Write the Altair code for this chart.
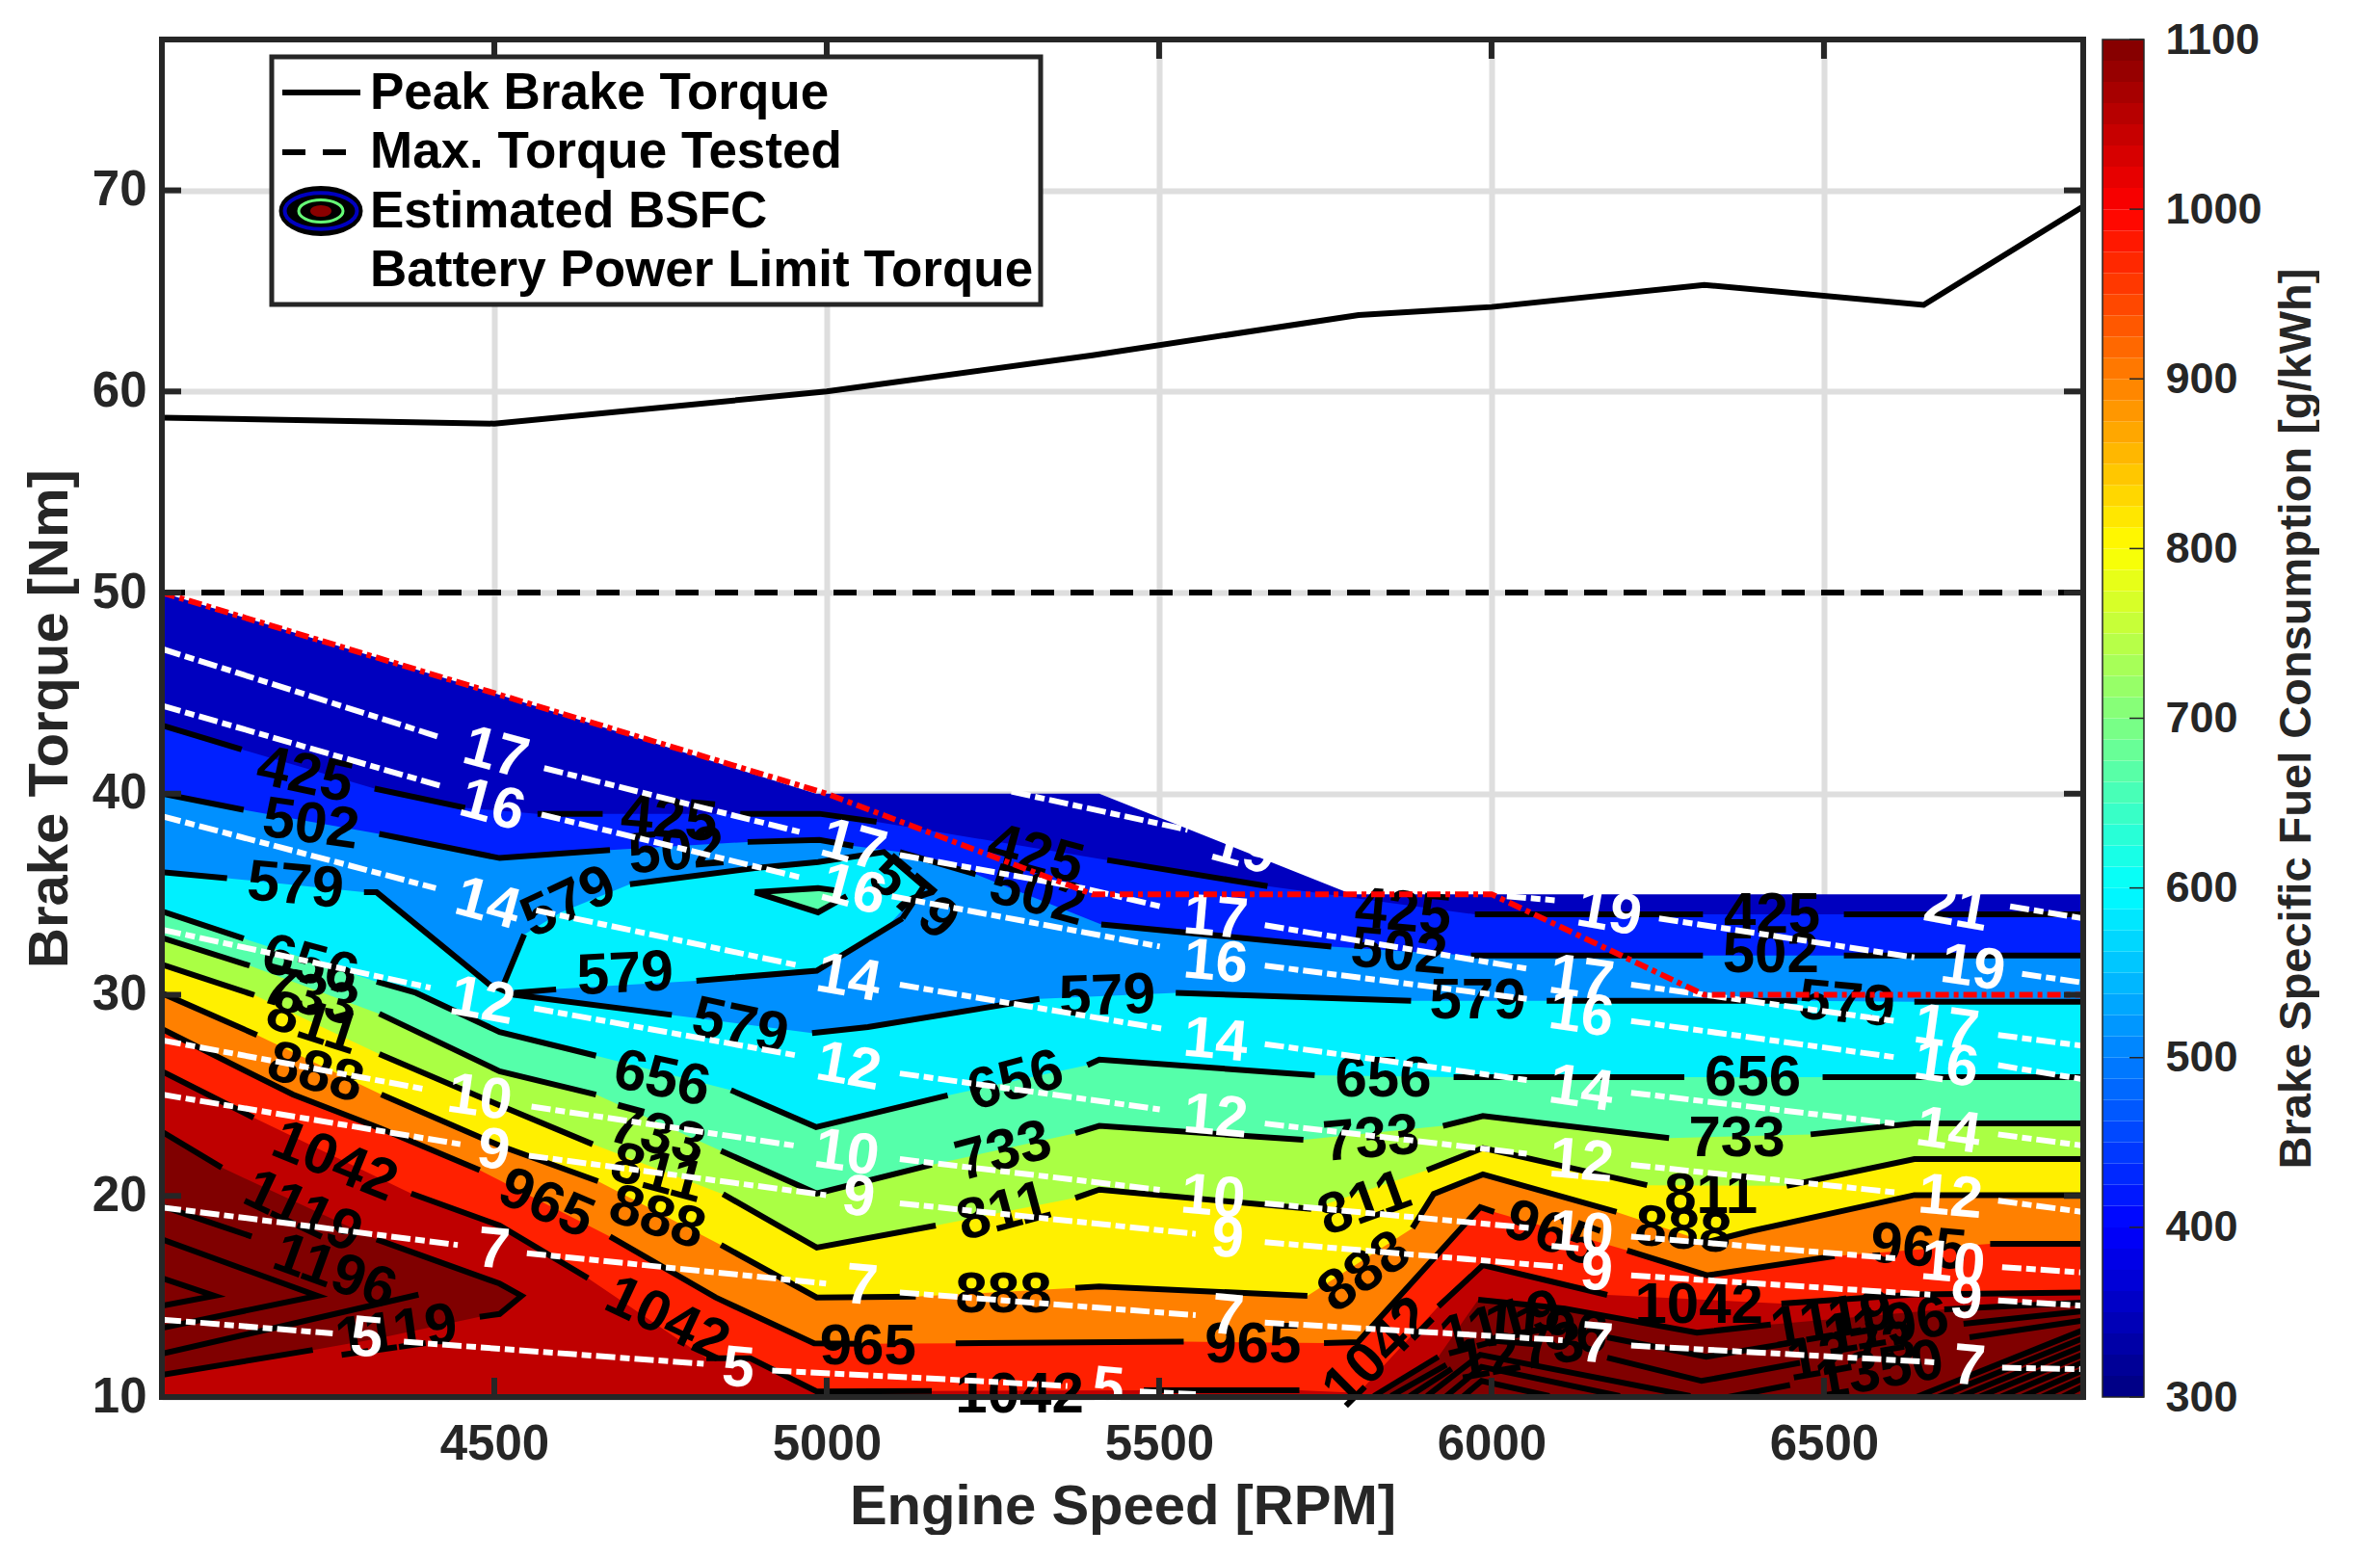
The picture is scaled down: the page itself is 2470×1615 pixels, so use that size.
import altair as alt
import pandas as pd

FONT = "Liberation Sans"
INK = "#262626"
W, H = 1994, 1409
X_TITLE = "Engine Speed [RPM]"
Y_TITLE = "Brake Torque [Nm]"
CB_TITLE = "Brake Specific Fuel Consumption [g/kWh]"
X_DOM = [4000, 6890]
Y_DOM = [10, 77.5]
X_TICKS = [4500, 5000, 5500, 6000, 6500]
Y_TICKS = [10, 20, 30, 40, 50, 60, 70]
CB_TICKS = [300, 400, 500, 600, 700, 800, 900, 1000, 1100]

PEAK_RPM = [4000, 4500, 5000, 5400, 5800, 6000, 6320, 6650, 6890]
PEAK_NM = [58.7, 58.4, 60.0, 61.8, 63.8, 64.2, 65.3, 64.3, 69.2]
TESTED_RPM = [4000, 6890]
TESTED_NM = [50, 50]
LIMIT_RPM = [4000, 4500, 5000, 5400, 6000, 6320, 6890]
LIMIT_NM = [50, 45, 40, 35, 35, 30, 30]
TOP_RPM = [4000, 4500, 4984, 5410, 5790, 6890]
TOP_NM = [50, 45, 40, 40, 35, 35]

C425 = [[(4000,43.4),(4120,42.2)],[(4320,40.25),(4456,39.3)],[(4565,39.0),(4663,39.0)],
        [(4870,39.0),(4989,39.0),(5075,38.6)],[(5422,36.7),(5663,35.4)],
        [(5975,34.0),(6318,34.0)],[(6530,34.0),(6890,34.0)]]
C502 = [[(4000,40.0),(4123,39.2)],[(4327,38.0),(4508,36.8),(4674,37.2)],
        [(4881,37.6),(4989,37.7),(5040,37.4)],[(5110,37.1),(5224,36.0)],
        [(5413,33.5),(5759,32.4)],[(5969,31.95),(6318,31.95)],[(6530,31.95),(6890,31.95)]]
C579 = [[(4000,36.1),(4098,35.8)],[(4304,35.1),(4323,35.1),(4493,30.5),(4530,30.0),(4767,29.0)],
        [(4978,28.1),(5062,28.4),(5320,29.8)],[(5525,30.1),(5879,29.7)],
        [(6083,29.7),(6460,29.7)],[(6636,29.65),(6890,29.65)]]
C579_ISLE = [[(4512,30.35),(4545,33.0)],[(4704,35.5),(4892,36.3),(4987,36.6),(5086,37.1),(5146,35.4),(5114,33.8)],
             [(4530,30.1),(4593,30.27)],[(4804,30.7),(4985,31.2),(5114,33.8)]]
ISLE_RPM = [4512, 4545, 4600, 4704, 4804, 4892, 4987, 5086, 5146]
ISLE_TOP = [30.35, 33.0, 34.1, 35.5, 35.95, 36.3, 36.6, 37.1, 35.4]
ISLE_BOT = [30.35, 30.15, 30.3, 30.5, 30.7, 30.95, 31.2, 33.2, 35.4]
C656_ISLE = [[(4892,35.1),(4987,34.1),(5030,34.9)],[(4892,35.1),(4987,35.3),(5011,35.2)]]
ISLET_RPM = [4892, 4987, 5011]
ISLET_TOP = [35.1, 35.3, 35.2]
ISLET_BOT = [35.1, 34.1, 34.7]
C656 = [[(4000,34.15),(4123,32.8)],[(4323,30.65),(4382,30.1),(4508,28.15),(4653,26.97)],
        [(4856,25.26),(4984,23.42),(5182,25.0)],[(5392,26.5),(5410,26.78),(5734,26.0)],
        [(5943,25.9),(6290,25.9)],[(6498,25.9),(6890,25.9)]]
C733 = [[(4000,32.83),(4132,31.45)],[(4327,29.06),(4508,26.2),(4653,25.04)],
        [(4841,22.24),(4985,20.12),(5158,21.55)],[(5374,23.12),(5410,23.48),(5717,22.79)],
        [(5927,23.48),(5987,23.97),(6267,22.87)],[(6480,23.06),(6636,23.61),(6890,23.61)]]
C811 = [[(4000,31.5),(4139,29.99)],[(4327,27.05),(4508,24.5),(4648,22.57)],
        [(4844,20.09),(4985,17.43),(5164,18.53)],[(5374,19.9),(5410,20.31),(5729,19.35)],
        [(5903,21.28),(5987,22.38),(6234,20.53)],[(6444,20.5),(6636,21.83),(6890,21.83)]]
C888 = [[(4000,30.08),(4143,28.0)],[(4330,25.04),(4508,22.5),(4656,20.73)],
        [(4841,17.56),(4985,14.95),(5134,15.0)],[(5374,15.42),(5410,15.5),(5723,15.03)],
        [(5881,18.4),(5913,20.1),(5987,21.07),(6188,19.2)],[(6324,17.7),(6390,18.25),(6636,20.04),(6890,20.04)]]
C965 = [[(4000,28.3),(4197,25.04),(4330,23.34),(4478,21.28)],[(4674,17.98),(4833,14.95),(4981,12.67),(5050,12.65)],
        [(5194,12.67),(5537,12.75)],[(5748,12.68),(5799,12.73),(5983,19.44),(6004,19.2)],
        [(6204,17.29),(6324,16.05),(6516,17.01)],[(6750,17.62),(6890,17.62)]]
C1042 = [[(4000,26.2),(4138,23.89)],[(4375,20.12),(4508,18.53),(4641,15.91)],
         [(4819,11.93),(4885,11.93),(4985,10.28),(5158,10.3)],[(5477,10.33),(5711,10.33)],
         [(5800,10.2)],[(5920,14.5),(5987,16.56),(6174,15.08)],[(6436,14.65),(6637,15.1),(6888,15.2)]]
C1119_L = [[(4000,23.2),(4090,21.41)],[(4323,17.84),(4508,15.64),(4541,15.03),(4508,14.13),(4478,13.99)],
           [(4227,12.34),(4000,11.1)]]
WEDGE_RPM = [4000, 4090, 4227, 4323, 4478, 4508, 4541]
WEDGE_TOP = [23.2, 21.41, 19.3, 17.84, 15.9, 15.64, 15.03]
WEDGE_BOT = [11.1, 11.7, 12.34, 12.9, 13.99, 14.13, 15.03]
C1119_R = [[(5823,10.05),(5920,12.0)],[(5980,14.84),(6110,14.4),(6309,13.2),(6420,13.6)],[(6681,14.36),(6888,14.7)]]
C_DARK = [
    [(4000,19.49),(4135,17.98)], [(4386,15.09),(4000,12.15)],
    [(4000,17.84),(4234,15.03),(4000,13.44)], [(4000,15.91),(4079,15.03),(4000,14.54)],
    [(5849,10.05),(5932,11.6)], [(6174,12.97),(6323,12.0),(6449,12.68)], [(6710,13.64),(6888,14.26)],
    [(5877,10.05),(5940,11.4)], [(6174,11.96),(6316,10.8),(6464,11.7)], [(6719,12.97),(6888,13.8)],
    [(5903,10.05),(5983,12.1),(6299,10.05)],
    [(5932,10.05),(5985,11.5),(6193,10.05)],
    [(5958,10.05),(5985,10.8),(6087,10.05)],
    [(6356,10.0),(6449,10.6)],
    [(6639,10.0),(6888,13.3)], [(6671,10.0),(6888,12.9)], [(6703,10.0),(6888,12.5)], [(6733,10.0),(6888,12.1)],
    [(6765,10.0),(6888,11.7)], [(6797,10.0),(6888,11.3)], [(6827,10.0),(6888,10.9)], [(6858,10.0),(6888,10.5)],
]

W5 = [[(4000,13.85),(4257,13.16)],[(4364,12.75),(4815,11.65)],[(4918,11.32),(5135,10.96),(5362,10.55)],[(5471,10.28),(5555,10.14)]]
W7 = [[(4000,19.43),(4445,17.56)],[(4549,17.15),(4999,15.64)],[(5110,15.2),(5555,14.07)],[(5659,13.7),(6107,12.83)],[(6210,12.56),(6666,11.73)],[(6768,11.46),(6890,11.38)]]
W9 = [[(4000,25.04),(4449,22.57)],[(4552,22.0),(4999,20.04)],[(5110,19.63),(5555,18.11)],[(5659,17.7),(6107,16.46)],[(6210,16.05),(6660,15.09)],[(6762,14.8),(6890,14.54)]]
W10 = [[(4000,27.74),(4397,25.3)],[(4556,24.44),(4952,22.5)],[(5110,21.83),(5501,20.3)],[(5659,19.63),(6059,18.4)],[(6210,17.98),(6612,16.88)],[(6768,16.46),(6890,16.19)]]
W12 = [[(4000,33.24),(4404,30.35)],[(4560,29.33),(4952,27.0)],[(5110,26.09),(5501,24.3)],[(5659,23.6),(6053,22.1)],[(6210,21.55),(6606,20.18)],[(6762,19.76),(6890,19.2)]]
W14 = [[(4000,38.88),(4412,35.3)],[(4563,34.2),(4959,31.45)],[(5110,30.5),(5507,28.3)],[(5659,27.55),(6053,25.76)],[(6210,25.13),(6606,23.6)],[(6762,23.06),(6890,22.5)]]
W16 = [[(4000,44.38),(4419,40.39)],[(4571,38.96),(4959,35.85)],[(5098,34.9),(5501,32.4)],[(5659,31.45),(6053,29.8)],[(6210,28.7),(6606,26.9)],[(6762,26.5),(6890,25.8)]]
W17 = [[(4000,47.2),(4419,42.8)],[(4575,41.27),(4959,38.1)],[(5110,36.95),(5386,35.3),(5501,34.4)],[(5659,33.46),(6053,31.3)],[(6210,30.5),(6606,28.7)],[(6762,28.0),(6890,27.46)]]
W19 = [[(5278,40.1),(5543,38.2)],[(6023,34.9),(6095,34.7)],[(6252,33.8),(6636,31.86)],[(6798,31.04),(6890,30.6)]]
W21 = [[(6780,34.4),(6890,33.8)]]

# (text, rpm, torque, angle)
BLACK_LABELS = [
    ("425",4215,40.9,12),("502",4224,38.45,8),("579",4201,35.4,5),("656",4223,31.45,15),("733",4223,29.9,15),
    ("811",4227,28.56,18),("888",4231,26.1,15),("1042",4260,21.7,22),("1119",4212,19.2,25),("1196",4260,16.2,20),
    ("1119",4353,13.2,-8),("425",4763,38.7,5),("502",4774,37.1,-5),("579",4612,34.6,-25),("579",4697,31.0,-3),
    ("579",4870,28.4,12),("656",4752,25.8,12),("733",4745,23.0,15),("811",4745,21.1,15),("888",4745,18.9,18),
    ("965",4578,19.6,23),("1042",4760,13.85,25),("965",5062,12.5,0),("579",5130,34.8,40),
    ("425",5314,36.95,15),("502",5317,34.9,15),("656",5284,25.7,-15),("733",5266,22.2,-15),("811",5266,19.2,-15),
    ("888",5266,15.1,0),("1042",5290,10.1,0),("579",5422,29.9,-2),("965",5641,12.6,0),("733",5819,22.8,-5),
    ("656",5837,25.8,0),("579",5979,29.7,0),("425",5867,34.06,5),("502",5861,32.1,5),("811",5809,19.6,-20),
    ("888",5809,16.2,-35),("1042",5830,12.2,-45),("1119",6014,13.6,-15),("1196",6081,13.3,5),("1273",6043,12.2,-10),
    ("965",6091,18.1,20),("811",6330,20.0,0),("888",6288,18.25,5),("1042",6312,14.54,0),("733",6369,22.84,0),
    ("656",6393,25.87,0),("502",6420,32.0,0),("425",6422,33.93,0),("579",6534,29.5,5),("965",6642,17.4,5),
    ("1119",6512,13.8,-10),("1196",6594,13.46,-10),("1273",6541,12.2,-10),("1350",6584,11.3,-10),
]
WHITE_LABELS = [
    ("17",4502,42.0,15),("16",4497,39.4,15),("14",4490,34.5,15),("12",4482,29.66,10),("10",4478,24.85,8),("9",4499,22.24,8),
    ("7",4499,17.3,5),("5",4308,12.9,5),("5",4867,11.4,5),("17",5040,37.4,15),("16",5040,35.2,15),("14",5033,30.8,10),
    ("12",5033,26.4,10),("10",5030,22.1,8),("9",5048,19.9,8),("7",5052,15.5,5),("19",5627,37.2,15),("17",5585,33.8,5),
    ("16",5585,31.6,5),("14",5585,27.7,5),("12",5585,23.9,5),("10",5581,19.9,5),("9",5603,17.84,5),("7",5603,14.0,5),
    ("5",5423,10.4,5),("19",6177,34.06,10),("17",6135,30.76,8),("16",6135,29.0,8),("14",6135,25.3,8),("12",6135,21.7,5),
    ("10",6135,18.1,5),("9",6158,16.2,5),("7",6158,12.6,5),("21",6699,34.3,10),("19",6724,31.3,8),("17",6684,28.3,8),
    ("16",6684,26.5,8),("14",6687,23.2,8),("12",6690,19.9,5),("10",6694,16.6,5),("9",6714,14.8,5),("7",6718,11.5,5),
]

BAND_TOP = "#0000bf"
BANDS = [(C425, "#0020ff"), (C502, "#0090ff"), (C579, "#00f0ff")]
BANDS2 = [(C656, "#55ffaa"), (C733, "#aaff44"), (C811, "#fff000"), (C888, "#ff8000"), (C965, "#ff2000"), (C1042, "#bf0000")]
DARK = "#800000"

x_scale = alt.Scale(domain=X_DOM, nice=False, zero=False)
y_scale = alt.Scale(domain=Y_DOM, nice=False, zero=False)
X = lambda: alt.X("rpm:Q", scale=x_scale, title=X_TITLE)
Y = lambda: alt.Y("nm:Q", scale=y_scale, title=Y_TITLE)


def flat(segs):
    return [p for s in segs for p in s]


def area(rpm, top, bot, color):
    df = pd.DataFrame({"rpm": rpm, "nm": top, "low": bot})
    return alt.Chart(df).mark_area(color=color, interpolate="linear", clip=True).encode(
        x=X(), y=Y(), y2="low:Q")


def band(segs, color):
    pts = flat(segs)
    return area([p[0] for p in pts], [p[1] for p in pts], [10] * len(pts), color)


def lines(groups, **style):
    rows = []
    g = 0
    for segs in groups:
        for s in segs:
            g += 1
            for i, (a, b) in enumerate(s):
                rows.append({"g": g, "i": i, "rpm": a, "nm": b})
    return alt.Chart(pd.DataFrame(rows)).mark_line(**style).encode(
        x=X(), y=Y(), detail="g:N", order="i:Q")


def labels(items, color, size=60):
    df = pd.DataFrame(items, columns=["t", "rpm", "nm", "a"])
    df["a"] = df["a"] % 360
    return alt.Chart(df).mark_text(font=FONT, fontWeight="bold", fontSize=size, color=color,
                                   align="center", baseline="middle").encode(
        x=X(), y=Y(), text="t:N", angle=alt.Angle("a:Q", scale=None))


def series(rpm, nm, **style):
    return alt.Chart(pd.DataFrame({"rpm": rpm, "nm": nm})).mark_line(**style).encode(x=X(), y=Y())


ONE = alt.Data(values=[{"k": 1}])

base = alt.Chart(pd.DataFrame({"rpm": TESTED_RPM, "nm": TESTED_NM})).mark_line(opacity=0).encode(
    x=alt.X("rpm:Q", scale=x_scale, title=X_TITLE,
            axis=alt.Axis(values=X_TICKS, grid=True, gridColor="#dedede", gridWidth=6, domain=False, ticks=False,
                          labelFont=FONT, labelFontWeight="bold", labelFontSize=51, labelColor=INK, labelPadding=24,
                          titleFont=FONT, titleFontWeight="bold", titleFontSize=58, titleColor=INK, titlePadding=11,
                          format="d")),
    y=alt.Y("nm:Q", scale=y_scale, title=Y_TITLE,
            axis=alt.Axis(values=Y_TICKS, grid=True, gridColor="#dedede", gridWidth=6, domain=False, ticks=False,
                          labelFont=FONT, labelFontWeight="bold", labelFontSize=51, labelColor=INK, labelPadding=16,
                          titleFont=FONT, titleFontWeight="bold", titleFontSize=58, titleColor=INK, titlePadding=14)),
)

fills = [area(TOP_RPM, TOP_NM, [10] * len(TOP_RPM), BAND_TOP)]
fills += [band(s, c) for s, c in BANDS]
fills.append(area(ISLE_RPM, ISLE_TOP, ISLE_BOT, "#00f0ff"))
fills.append(area(ISLET_RPM, ISLET_TOP, ISLET_BOT, "#55ffaa"))
fills += [band(s, c) for s, c in BANDS2]
fills.append(area(WEDGE_RPM, WEDGE_TOP, WEDGE_BOT, DARK))
fills.append(band(C1119_R, DARK))

black = lines([C425, C502, C579, C579_ISLE, C656_ISLE, C656, C733, C811, C888, C965, C1042, C1119_L, C1119_R, C_DARK],
              color="#000000", strokeWidth=6, clip=True)
white = lines([W5, W7, W9, W10, W12, W14, W16, W17, W19, W21],
              color="#ffffff", strokeWidth=6, strokeDash=[20, 5, 10, 5], clip=True)

def xticks(y0, y1):
    return alt.Chart(pd.DataFrame({"rpm": X_TICKS})).mark_rule(color=INK, strokeWidth=6).encode(
        x=X(), y=alt.value(y0), y2=alt.value(y1))

def yticks(x0, x1):
    return alt.Chart(pd.DataFrame({"nm": Y_TICKS})).mark_rule(color=INK, strokeWidth=6).encode(
        y=Y(), x=alt.value(x0), x2=alt.value(x1))

frame = alt.Chart(ONE).mark_rect(fillOpacity=0, stroke=INK, strokeWidth=6).encode(
    x=alt.value(0), x2=alt.value(W), y=alt.value(0), y2=alt.value(H))

# legend
lg_box = alt.Chart(ONE).mark_rect(fill="#ffffff", stroke=INK, strokeWidth=5).encode(
    x=alt.value(114), x2=alt.value(912), y=alt.value(18), y2=alt.value(275))
LG_TEXT = ["Peak Brake Torque", "Max. Torque Tested", "Estimated BSFC", "Battery Power Limit Torque"]
LG_Y = [72, 133, 195, 256]
lg_text = [alt.Chart(ONE).mark_text(text=t, font=FONT, fontWeight="bold", fontSize=53, color="#000000",
                                    align="left", baseline="alphabetic").encode(x=alt.value(216), y=alt.value(v))
           for t, v in zip(LG_TEXT, LG_Y)]
lg_l1 = alt.Chart(ONE).mark_rule(color="#000000", strokeWidth=6).encode(
    x=alt.value(125), x2=alt.value(206), y=alt.value(55))
lg_l2 = alt.Chart(ONE).mark_rule(color="#000000", strokeWidth=6, strokeDash=[24, 18]).encode(
    x=alt.value(125), x2=alt.value(206), y=alt.value(117))
ELL = "M -1 0 A 1 0.59 0 1 0 1 0 A 1 0.59 0 1 0 -1 0 Z"
ELL2 = "M -1 0 A 1 0.5 0 1 0 1 0 A 1 0.5 0 1 0 -1 0 Z"
def ell(shape, size, **style):
    return alt.Chart(ONE).mark_point(shape=shape, size=size, **style).encode(x=alt.value(165), y=alt.value(178))
lg_icon = [ell(ELL, 85 ** 2, filled=True, fill="#000000", stroke="#000000", opacity=1),
           ell(ELL2, 75 ** 2, filled=False, stroke="#0000c0", strokeWidth=4, opacity=1),
           ell(ELL2, 46 ** 2, filled=False, stroke="#66ff77", strokeWidth=3, opacity=1),
           ell(ELL2, 20 ** 2, filled=True, fill="#8b0000", stroke="#8b0000", opacity=1)]

main = alt.layer(
    base, *fills,
    black,
    labels(BLACK_LABELS, "#000000"),
    white,
    labels(WHITE_LABELS, "#ffffff"),
    series(LIMIT_RPM, LIMIT_NM, color="#ff0000", strokeWidth=6, strokeDash=[14, 5, 5, 5]),
    series(PEAK_RPM, PEAK_NM, color="#000000", strokeWidth=6),
    series(TESTED_RPM, TESTED_NM, color="#000000", strokeWidth=6, strokeDash=[24, 17]),
    xticks(0, 20), xticks(H - 20, H), yticks(0, 20), yticks(W - 20, W),
    lg_box, *lg_text, lg_l1, lg_l2, *lg_icon,
    frame,
).properties(width=W, height=H)


# colorbar: MATLAB jet with 64 steps
def jet(t):
    def ch(c):
        return max(0.0, min(1.0, 1.5 - abs(4 * t - c)))
    return "#%02x%02x%02x" % tuple(int(round(255 * ch(c))) for c in (3, 2, 1))


N = 64
cb_low = [300 + 800 * i / N for i in range(N)]
cb_high = [300 + 800 * (i + 1) / N for i in range(N)]
cb_col = [jet((i + 0.5) / N) for i in range(N)]
cb_scale = alt.Scale(domain=[300, 1100], nice=False, zero=False)
cb = alt.Chart(pd.DataFrame({"lo": cb_low, "hi": cb_high, "c": cb_col})).mark_rect().encode(
    x=alt.value(0), x2=alt.value(43),
    y=alt.Y("lo:Q", scale=cb_scale, title=CB_TITLE,
            axis=alt.Axis(orient="right", values=CB_TICKS, grid=False, domain=False, ticks=False, format="d",
                          labelFont=FONT, labelFontWeight="bold", labelFontSize=45, labelColor=INK, labelPadding=22,
                          titleFont=FONT, titleFontWeight="bold", titleFontSize=47, titleColor=INK,
                          titleAngle=270, titlePadding=60)),
    y2="hi:Q",
    fill=alt.Fill("c:N", scale=None),
)
cb_ticks = alt.Chart(pd.DataFrame({"lo": CB_TICKS})).mark_rule(color=INK, strokeWidth=1.5).encode(
    y=alt.Y("lo:Q", scale=cb_scale, title=CB_TITLE), x=alt.value(28), x2=alt.value(43))
cb_frame = alt.Chart(ONE).mark_rect(fillOpacity=0, stroke=INK, strokeWidth=1.5).encode(
    x=alt.value(0), x2=alt.value(43), y=alt.value(0), y2=alt.value(H))
bar = alt.layer(cb, cb_ticks, cb_frame).properties(width=43, height=H)

chart = alt.hconcat(main, bar, spacing=7).properties(
    padding={"left": 15, "top": 11, "right": 0, "bottom": 0}
).configure_view(stroke=None).configure_axis(labelOverlap=False)

chart.save("out.html", embed_options={"renderer": "svg", "actions": False})
